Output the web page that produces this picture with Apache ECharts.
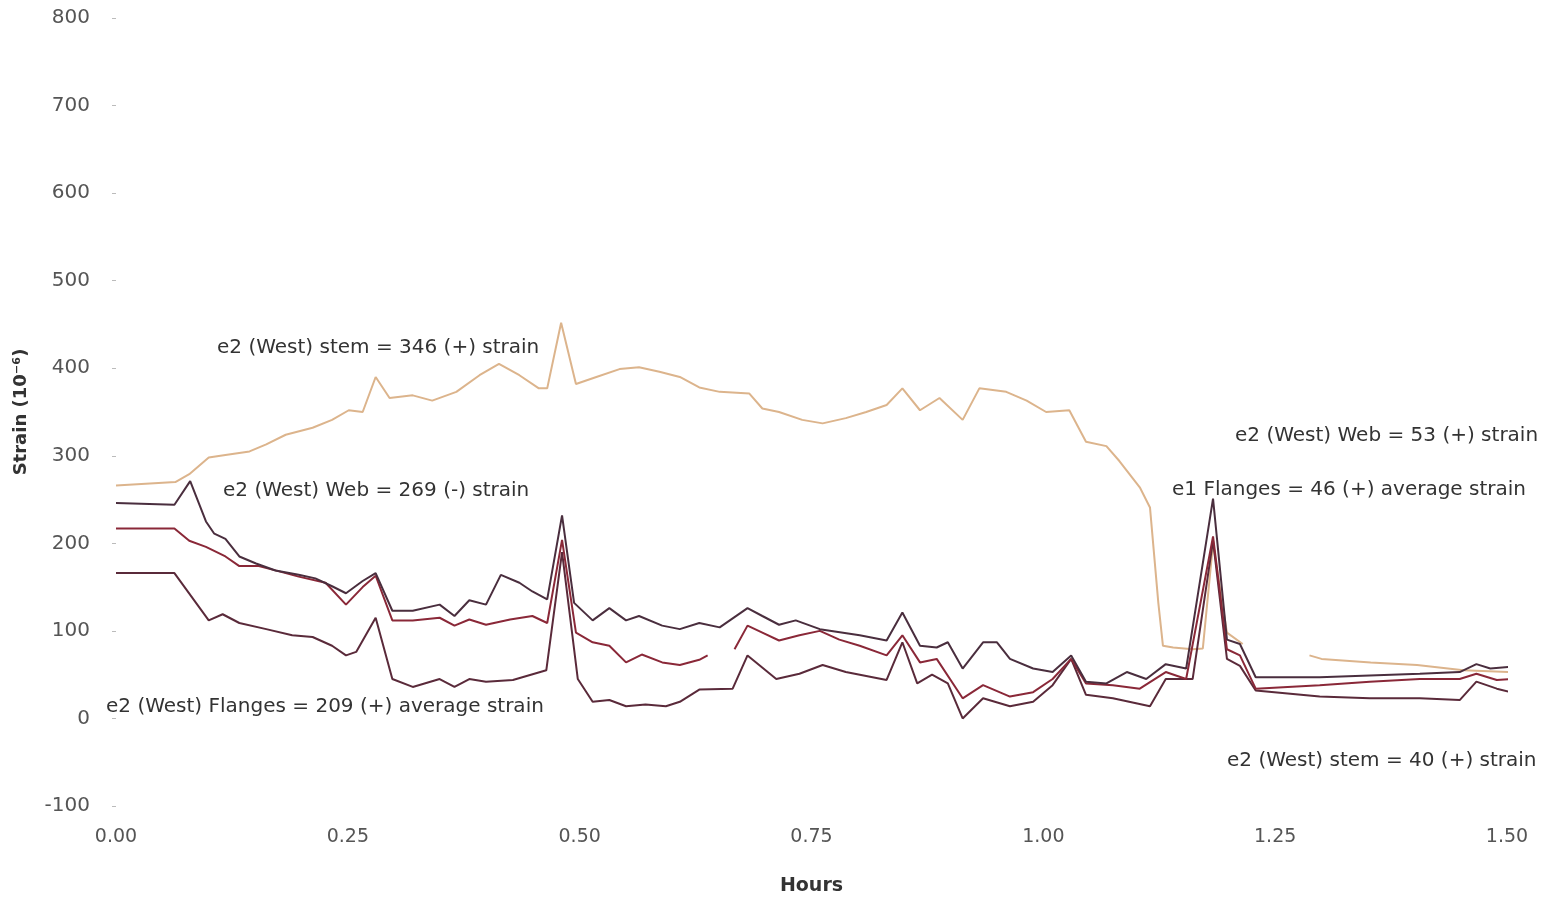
<!DOCTYPE html>
<html>
<head>
<meta charset="utf-8">
<script src="https://cdn.jsdelivr.net/npm/echarts@6/dist/echarts.min.js"></script>
<style>html,body{margin:0;padding:0;background:#fff}#c{width:1555px;height:901px}</style>
</head>
<body>
<div id="c"></div>
<script>
// ---- data ----
const xTicks = [0, 0.25, 0.5, 0.75, 1.0, 1.25, 1.5];
const yTicks = [-100, 0, 100, 200, 300, 400, 500, 600, 700, 800];

const stemHours = [0.000,0.064,0.079,0.100,0.118,0.144,0.162,0.183,0.212,0.233,0.251,0.266,0.280,0.295,0.320,0.341,0.367,0.392,0.413,0.435,0.456,0.465,0.480,0.496,0.518,0.543,0.564,0.586,0.608,0.629,0.651,0.683,0.697,0.715,0.740,0.762,0.787,0.809,0.831,0.848,0.867,0.888,0.913,0.931,0.960,0.982,1.003,1.028,1.046,1.068,1.082,1.104,1.115,1.124,1.129,1.140,1.161,1.172,1.183,1.198,1.215,1.250,1.287,1.300,1.353,1.403,1.453,1.504];
const stemVals  = [266,270,279,298,301,305,313,324,332,341,352,350,390,366,369,363,373,392,405,392,377,377,452,382,390,399,401,396,390,378,373,371,354,350,341,337,343,350,358,377,352,366,341,377,373,363,350,352,316,311,294,264,241,132,83,81,79,80,200,98,85,null,72,68,64,61,55,53];

const webHours = [0.000,0.063,0.080,0.097,0.106,0.118,0.133,0.151,0.172,0.197,0.215,0.233,0.248,0.266,0.280,0.298,0.320,0.349,0.365,0.381,0.399,0.415,0.435,0.449,0.465,0.481,0.494,0.514,0.532,0.550,0.564,0.589,0.608,0.629,0.651,0.681,0.697,0.715,0.733,0.759,0.802,0.831,0.848,0.867,0.885,0.897,0.913,0.935,0.950,0.964,0.989,1.010,1.030,1.046,1.068,1.090,1.111,1.132,1.154,1.183,1.198,1.212,1.229,1.298,1.352,1.406,1.449,1.467,1.482,1.504];
const webVals  = [246,244,271,225,211,205,185,177,169,164,160,151,143,157,166,123,123,130,117,135,130,164,155,145,136,232,132,112,126,112,117,106,102,109,104,126,117,107,112,102,95,89,121,83,81,87,57,87,87,68,57,53,72,42,40,53,45,62,57,251,90,85,47,47,49,51,53,62,57,59];

const midHours = [0.000,0.063,0.079,0.097,0.118,0.133,0.154,0.176,0.197,0.226,0.248,0.266,0.280,0.298,0.320,0.349,0.365,0.381,0.399,0.425,0.449,0.465,0.481,0.496,0.514,0.532,0.550,0.567,0.589,0.608,0.629,0.638,0.652,0.667,0.681,0.697,0.715,0.737,0.759,0.780,0.802,0.831,0.848,0.867,0.885,0.913,0.935,0.964,0.989,1.010,1.030,1.046,1.075,1.104,1.132,1.154,1.183,1.198,1.212,1.229,1.298,1.352,1.406,1.449,1.467,1.489,1.504];
const midVals  = [217,217,203,196,185,174,174,168,162,155,130,150,163,112,112,115,106,113,107,113,117,109,204,98,87,83,64,73,64,61,67,72,null,79,106,98,89,95,100,90,83,72,95,64,68,23,38,25,30,45,68,40,38,34,53,45,208,79,72,34,38,42,45,45,51,44,45];

const flgHours = [0.000,0.063,0.100,0.115,0.133,0.162,0.190,0.212,0.233,0.248,0.259,0.280,0.298,0.320,0.349,0.365,0.381,0.399,0.428,0.464,0.481,0.498,0.514,0.532,0.550,0.571,0.593,0.608,0.629,0.665,0.681,0.712,0.737,0.762,0.787,0.831,0.848,0.864,0.880,0.897,0.913,0.935,0.964,0.989,1.010,1.030,1.046,1.075,1.115,1.132,1.161,1.183,1.198,1.212,1.229,1.298,1.352,1.406,1.449,1.467,1.489,1.504];
const flgVals  = [166,166,112,119,109,102,95,93,83,72,76,115,45,36,45,36,45,42,44,55,190,45,19,21,14,16,14,19,33,34,72,45,51,61,53,44,87,40,50,40,0,23,14,19,38,68,27,23,14,45,45,203,68,60,32,25,23,23,21,42,34,30];

const notes = [
  "e2 (West) stem = 346 (+) strain",
  "e2 (West) Web = 269 (-) strain",
  "e2 (West) Flanges = 209 (+) average strain",
  "e2 (West) Web = 53 (+) strain",
  "e1 Flanges = 46 (+) average strain",
  "e2 (West) stem = 40 (+) strain"
];

// ---- build ----
function pairs(h, v){ return h.map((x,i)=> v[i]===null ? [x,null] : [x, v[i]]); }

const chart = echarts.init(document.getElementById('c'), null, {renderer:'canvas'});
const font = 'DejaVu Sans';
function lineSeries(name, h, v, color, w){
  return {name, type:'line', data:pairs(h,v), showSymbol:false, symbol:'none',
    connectNulls:false, lineStyle:{color, width:w}, itemStyle:{color}, animation:false};
}
const notePos = [[217,348],[223,491],[106,707],[1235,436],[1172,490],[1227,761]];

chart.setOption({
  backgroundColor:'#ffffff',
  animation:false,
  grid:{left:116, right:48, top:18, bottom:85, containLabel:false},
  xAxis:{type:'value', min:xTicks[0], max:xTicks[xTicks.length-1], interval:0.25,
    name:'Hours', nameLocation:'middle', nameGap:71,
    nameTextStyle:{fontFamily:font, fontWeight:'bold', fontSize:19, color:'#333'},
    axisLine:{show:false}, axisTick:{show:false}, splitLine:{show:false},
    axisLabel:{fontFamily:font, fontSize:19, color:'#555', margin:22,
      formatter:v=>v.toFixed(2)}},
  yAxis:{type:'value', min:yTicks[0], max:yTicks[yTicks.length-1], interval:100,
    name:'Strain (10\u207B\u2076)', nameLocation:'middle', nameGap:86, nameRotate:90,
    nameTextStyle:{fontFamily:font, fontWeight:'bold', fontSize:18, color:'#333'},
    axisLine:{show:false}, splitLine:{show:false},
    axisTick:{show:true, length:4, inside:false, lineStyle:{color:'#bbb'}},
    axisLabel:{fontFamily:font, fontSize:20, color:'#555', margin:26}},
  series:[
    lineSeries('e2 (West) stem', stemHours, stemVals, '#dcb48c', 2),
    lineSeries('e1 Flanges', flgHours, flgVals, '#5a2a3a', 2),
    lineSeries('e2 (West) Flanges', midHours, midVals, '#8a2838', 2),
    lineSeries('e2 (West) Web', webHours, webVals, '#4a2e3e', 2)
  ],
  graphic: notes.map((t,i)=>({type:'text', x:notePos[i][0], y:notePos[i][1], z:100,
    style:{text:t, fill:'#333', font:'20px "DejaVu Sans"', verticalAlign:'middle', align:'left'}}))
});
</script>
</body>
</html>
